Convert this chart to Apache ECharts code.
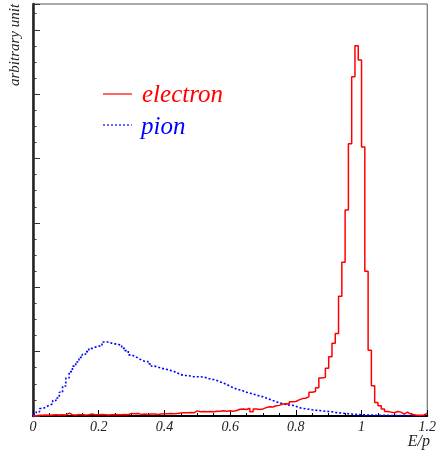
<!DOCTYPE html>
<html>
<head>
<meta charset="utf-8">
<script src="https://cdn.jsdelivr.net/npm/echarts@6/dist/echarts.min.js"></script>
<style>
  html, body { margin: 0; padding: 0; background: #fff; }
  #chart { width: 439px; height: 453px; }
</style>
</head>
<body>
<div id="chart"></div>
<script>
// histogram: 120 bins of 0.01 from 0 to 1.2
const binStart = 0
const binWidth = 0.01

// electron E/p, arbitrary units
const electron = [
  0.005, 0.01, 0.01, 0.015, 0.01, 0.015, 0.02, 0.015, 0.02, 0.015,
  0.045, 0.02, 0.015, 0.02, 0.02, 0.015, 0.02, 0.03, 0.02, 0.02,
  0.025, 0.02, 0.015, 0.02, 0.025, 0.02, 0.02, 0.025, 0.02, 0.04,
  0.035, 0.04, 0.025, 0.03, 0.025, 0.03, 0.03, 0.025, 0.03, 0.035,
  0.035, 0.04, 0.035, 0.04, 0.045, 0.05, 0.05, 0.055, 0.05, 0.08,
  0.065, 0.07, 0.065, 0.07, 0.065, 0.075, 0.075, 0.08, 0.075, 0.08,
  0.075, 0.085, 0.105, 0.11, 0.1, 0.12, 0.065, 0.11, 0.1, 0.11,
  0.13, 0.145, 0.14, 0.16, 0.165, 0.185, 0.19, 0.185, 0.22, 0.225,
  0.25, 0.27, 0.275, 0.3, 0.37, 0.38, 0.44, 0.59, 0.6, 0.74,
  0.92, 1.13, 1.28, 1.86, 2.39, 3.2, 4.23, 5.27, 5.75, 5.53,
  4.18, 2.25, 1.02, 0.47, 0.21, 0.16, 0.11, 0.07, 0.06, 0.05,
  0.07, 0.06, 0.03, 0.06, 0.03, 0.02, 0.01, 0.01, 0.015, 0.04
]

// pion E/p, arbitrary units
const pion = [
  0.03, 0.067, 0.116, 0.14, 0.17, 0.186, 0.24, 0.28, 0.37, 0.465,
  0.59, 0.69, 0.775, 0.84, 0.91, 0.96, 1.0, 1.05, 1.07, 1.085,
  1.09, 1.15, 1.15, 1.13, 1.12, 1.11, 1.1, 1.05, 1.015, 0.95,
  0.93, 0.9, 0.87, 0.85, 0.845, 0.81, 0.775, 0.76, 0.744, 0.73,
  0.72, 0.705, 0.69, 0.667, 0.643, 0.63, 0.63, 0.62, 0.61, 0.61,
  0.61, 0.605, 0.59, 0.574, 0.566, 0.55, 0.53, 0.51, 0.49, 0.46,
  0.44, 0.42, 0.405, 0.39, 0.37, 0.357, 0.34, 0.326, 0.31, 0.3,
  0.28, 0.26, 0.24, 0.225, 0.205, 0.19, 0.178, 0.17, 0.166, 0.15,
  0.13, 0.12, 0.113, 0.105, 0.096, 0.09, 0.085, 0.08, 0.074, 0.07,
  0.065, 0.055, 0.05, 0.045, 0.04, 0.035, 0.03, 0.025, 0.022, 0.02,
  0.018, 0.015, 0.014, 0.012, 0.012, 0.01, 0.01, 0.009, 0.008, 0.008,
  0.007, 0.007, 0.006, 0.006, 0.005, 0.005, 0.005, 0.004, 0.004, 0.004
]

const seriesNames = ['electron', 'pion']
const xTicks = [0, 0.2, 0.4, 0.6, 0.8, 1, 1.2]

// bin contents -> points at the left edges (+ closing right edge) for step drawing
const toSteps = (vals) => {
  const pts = vals.map((v, i) => [+(binStart + i * binWidth).toFixed(2), v])
  pts.push([+(binStart + vals.length * binWidth).toFixed(2), vals[vals.length - 1]])
  return pts
}

const serif = 'Liberation Serif'
const chart = echarts.init(document.getElementById('chart'))

const option = {
  animation: false,
  grid: {
    left: 33, right: 9, top: 4, bottom: 37,
    show: true, borderColor: '#555', borderWidth: 1
  },
  xAxis: {
    type: 'value',
    min: xTicks[0],
    max: xTicks[xTicks.length - 1],
    interval: 0.2,
    axisLine: { show: true, lineStyle: { color: '#000', width: 2 } },
    axisTick: { show: true, inside: true, length: 6, lineStyle: { color: '#000', width: 1 } },
    minorTick: { show: true, splitNumber: 4, length: 3, lineStyle: { color: '#000', width: 1 } },
    splitLine: { show: false },
    axisLabel: {
      fontFamily: serif, fontStyle: 'italic', fontSize: 14, color: '#222', margin: 4
    }
  },
  yAxis: {
    type: 'value',
    min: 0,
    max: 6.4,
    interval: 1,
    axisLine: { show: true, lineStyle: { color: '#222', width: 2.5 } },
    axisTick: { show: true, inside: true, length: 7, lineStyle: { color: '#333', width: 1 } },
    minorTick: { show: true, splitNumber: 4, length: 3.5, lineStyle: { color: '#333', width: 1 } },
    splitLine: { show: false },
    axisLabel: { show: false }
  },
  series: [
    {
      name: seriesNames[0],
      type: 'line',
      step: 'end',
      data: toSteps(electron),
      showSymbol: false,
      lineStyle: { color: '#ff0000', width: 1.5 },
      z: 3
    },
    {
      name: seriesNames[1],
      type: 'line',
      step: 'end',
      data: toSteps(pion),
      showSymbol: false,
      lineStyle: { color: '#0000ff', width: 1.6, type: [2, 2] },
      z: 2
    }
  ],
  graphic: [
    {
      type: 'text', x: 15, y: 45, rotation: Math.PI / 2,
      style: {
        text: 'arbitrary unit', font: 'italic 15px "Liberation Serif"',
        fill: '#222', align: 'center', verticalAlign: 'middle'
      }
    },
    {
      type: 'text', x: 430, y: 442,
      style: {
        text: 'E/p', font: 'italic 16px "Liberation Serif"',
        fill: '#222', align: 'right', verticalAlign: 'middle'
      }
    },
    {
      type: 'line', shape: { x1: 103, y1: 94, x2: 132, y2: 94 },
      style: { stroke: '#ff0000', lineWidth: 1.2 }
    },
    {
      type: 'text', x: 142, y: 95,
      style: {
        text: seriesNames[0], font: 'italic 25px "Liberation Serif"',
        fill: '#ff0000', align: 'left', verticalAlign: 'middle'
      }
    },
    {
      type: 'line', shape: { x1: 103, y1: 125, x2: 132, y2: 125 },
      style: { stroke: '#0000ff', lineWidth: 1.2, lineDash: [2, 2] }
    },
    {
      type: 'text', x: 141, y: 127,
      style: {
        text: seriesNames[1], font: 'italic 25px "Liberation Serif"',
        fill: '#0000ff', align: 'left', verticalAlign: 'middle'
      }
    }
  ]
}

chart.setOption(option)
window.addEventListener('resize', () => chart.resize())
</script>
</body>
</html>
